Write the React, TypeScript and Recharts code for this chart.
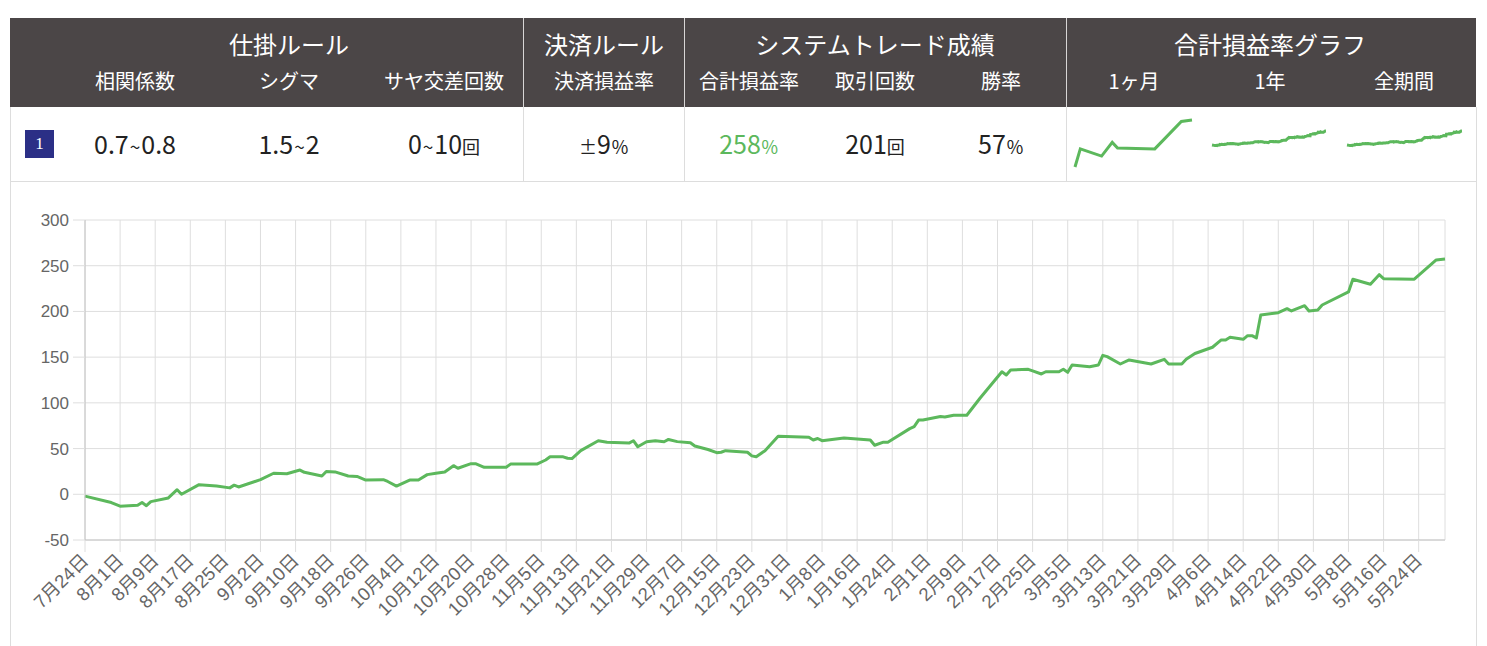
import { LineChart, Line, XAxis, YAxis, CartesianGrid } from "recharts";

// 合計損益率 (%) per trade date
const dates = [
  "7/24", "7/30", "8/1", "8/5", "8/6", "8/7", "8/8", "8/12", "8/14", "8/15", "8/19", "8/23", "8/26", "8/27", "8/28",
  "9/2", "9/5", "9/8", "9/11", "9/12", "9/16", "9/17", "9/19", "9/22", "9/24", "9/26", "9/30",
  "10/1", "10/3", "10/6", "10/8", "10/10", "10/12", "10/14", "10/16", "10/17", "10/20", "10/21", "10/23", "10/28", "10/29",
  "11/4", "11/6", "11/7", "11/10", "11/11", "11/12", "11/14", "11/18", "11/20", "11/25", "11/26", "11/27", "11/29",
  "12/1", "12/3", "12/4", "12/6", "12/9", "12/10", "12/13", "12/15", "12/16", "12/17", "12/22", "12/23", "12/24", "12/26", "12/29",
  "1/5", "1/6", "1/7", "1/8", "1/13", "1/19", "1/20", "1/22", "1/23", "1/28", "1/29", "1/30", "1/31",
  "2/4", "2/5", "2/7", "2/10", "2/13", "2/18", "2/19", "2/20", "2/24", "2/25", "2/27", "2/28",
  "3/3", "3/4", "3/5", "3/6", "3/10", "3/12", "3/13", "3/14", "3/17", "3/19", "3/24", "3/27", "3/28", "3/31",
  "4/1", "4/3", "4/7", "4/9", "4/10", "4/11", "4/14", "4/15", "4/16", "4/17", "4/18", "4/22", "4/24", "4/25", "4/28", "4/29",
  "5/1", "5/2", "5/8", "5/9", "5/13", "5/15", "5/16", "5/23", "5/28", "5/30",
];
const values = [
  -2, -9, -13, -12, -9, -12.5, -8, -4, 5, 0, 10.5, 9, 7, 10, 8,
  16, 23, 22.5, 26.5, 24, 20, 25, 24.5, 20, 19.5, 15.6, 16,
  14, 9, 15.6, 15.6, 21.5, 23, 24.4, 31.3, 28.5, 33.5, 33.5, 29.5, 29.5, 33,
  33, 37.5, 41, 41, 39.4, 39, 47.7, 58.6, 57, 56, 58.6, 52, 57.5,
  58.6, 57.5, 60, 57.6, 56.4, 52.8, 49, 45.5, 46, 47.7, 46, 42, 41, 47.7, 63.5,
  62.3, 59.4, 61, 58.6, 61.6, 59.4, 53.6, 57, 57, 71.8, 74, 81.2, 81.2,
  85, 84.5, 86.4, 86.4, 105, 134, 130.5, 136, 136.7, 135, 131.6, 134,
  134, 136.7, 133.4, 141.4, 139.6, 141.4, 152, 150.5, 142.5, 146.9, 142.5, 147.6, 142.5, 142.5,
  147.6, 154, 160.8, 168.8, 168.8, 171.7, 169.5, 173.5, 173.5, 171, 196, 198.6, 203, 200.5, 206.3, 200.5,
  201.6, 207, 221.3, 235.2, 229.7, 240.2, 235.8, 235.2, 256.3, 257.4,
];

const tickDates = [
  "7/24", "8/1", "8/9", "8/17", "8/25", "9/2", "9/10", "9/18", "9/26", "10/4", "10/12", "10/20", "10/28",
  "11/5", "11/13", "11/21", "11/29", "12/7", "12/15", "12/23", "12/31", "1/8", "1/16", "1/24", "2/1", "2/9",
  "2/17", "2/25", "3/5", "3/13", "3/21", "3/29", "4/6", "4/14", "4/22", "4/30", "5/8", "5/16", "5/24",
];
const yTicks = [-50, 0, 50, 100, 150, 200, 250, 300];
const monthStart = "5/8";

const GREEN = "#5cb85c";
const DAY = 86400000;
const T0 = Date.UTC(2018, 6, 24);

// "m/d" -> days since 7/24 (Jul–Dec is 2018, Jan–May is 2019)
function toDay(s: string) {
  const [m, d] = s.split("/").map(Number);
  const y = m >= 7 ? 2018 : 2019;
  return Math.round((Date.UTC(y, m - 1, d) - T0) / DAY);
}
function fmtDay(v: number) {
  const dt = new Date(T0 + v * DAY);
  return `${dt.getUTCMonth() + 1}月${dt.getUTCDate()}日`;
}

const data = dates.map((s, i) => ({ d: toDay(s), v: values[i] }));
const monthData = data.filter((p) => p.d >= toDay(monthStart));
const xTicks = tickDates.map(toDay);

const JP = '"Noto Sans CJK JP", "Noto Sans", sans-serif';
const AXIS_FONT = '"Liberation Sans", "Noto Sans CJK JP", sans-serif';

function Cell({ c, top, h, children, style }: any) {
  return (
    <div style={{ position: "absolute", left: c - 120, width: 240, top, height: h, lineHeight: `${h}px`, textAlign: "center", whiteSpace: "nowrap", ...style }}>
      {children}
    </div>
  );
}

const big = { fontSize: 25 };
const small = { fontSize: 18 };
const tilde = { fontSize: 19, margin: "0 1px" };

// rotated date label, right-middle anchored at the tick like chart.js
function DateTick({ x, y, payload }: any) {
  return (
    <text x={x} y={y} dy="0.35em" transform={`rotate(-45 ${x} ${y})`} textAnchor="end" fontSize={18.5} fill="#666" fontFamily={AXIS_FONT}>
      {fmtDay(payload.value)}
    </text>
  );
}

function Spark({ left, top, width, height, points, domain }: any) {
  return (
    <div style={{ position: "absolute", left, top }}>
      <LineChart width={width} height={height} data={points} margin={{ top: 2, right: 2, bottom: 2, left: 2 }}>
        <XAxis type="number" dataKey="d" domain={["dataMin", "dataMax"]} hide />
        <YAxis domain={domain} hide />
        <Line type="linear" dataKey="v" stroke={GREEN} strokeWidth={3} dot={false} isAnimationActive={false} />
      </LineChart>
    </div>
  );
}

export default function App() {
  const groups = [
    { label: "仕掛ルール", c: 289 },
    { label: "決済ルール", c: 604 },
    { label: "システムトレード成績", c: 875 },
    { label: "合計損益率グラフ", c: 1270 },
  ];
  const subs = [
    { label: "相関係数", c: 135 },
    { label: "シグマ", c: 289 },
    { label: "サヤ交差回数", c: 444 },
    { label: "決済損益率", c: 604 },
    { label: "合計損益率", c: 749 },
    { label: "取引回数", c: 875 },
    { label: "勝率", c: 1001 },
    { label: "1ヶ月", c: 1134 },
    { label: "1年", c: 1270 },
    { label: "全期間", c: 1404 },
  ];
  const dividers = [523, 684, 1066];

  return (
    <div style={{ position: "absolute", left: 0, top: 0, width: 1487, height: 646, overflow: "hidden", background: "#fff", fontFamily: JP }}>
      {/* header */}
      <div style={{ position: "absolute", left: 10, top: 18, width: 1466, height: 89, background: "#4b4647" }} />
      {/* body row */}
      <div style={{ position: "absolute", left: 10, top: 107, width: 1465, height: 74, borderLeft: "1px solid #ddd", borderRight: "1px solid #ddd", borderBottom: "1px solid #ddd" }} />
      {dividers.map((x) => (
        <div key={x} style={{ position: "absolute", left: x, top: 18, width: 1, height: 89, background: "#d8d6d6" }} />
      ))}
      {dividers.map((x) => (
        <div key={"b" + x} style={{ position: "absolute", left: x, top: 107, width: 1, height: 75, background: "#ddd" }} />
      ))}
      {groups.map((g) => (
        <Cell key={g.label} c={g.c} top={29} h={30} style={{ color: "#fff", fontSize: 24 }}>{g.label}</Cell>
      ))}
      {subs.map((s) => (
        <Cell key={s.label} c={s.c} top={68} h={26} style={{ color: "#fff", fontSize: 20 }}>{s.label}</Cell>
      ))}

      {/* row values */}
      <div style={{ position: "absolute", left: 25, top: 130, width: 29, height: 28, background: "#2b2f86", color: "#fff", fontSize: 17, lineHeight: "28px", textAlign: "center", fontFamily: "Liberation Serif, serif" }}>1</div>
      <Cell c={135} top={127} h={32} style={{ color: "#222" }}><span style={big}>0.7</span><span style={tilde}>~</span><span style={big}>0.8</span></Cell>
      <Cell c={289} top={127} h={32} style={{ color: "#222" }}><span style={big}>1.5</span><span style={tilde}>~</span><span style={big}>2</span></Cell>
      <Cell c={444} top={127} h={32} style={{ color: "#222" }}><span style={big}>0</span><span style={tilde}>~</span><span style={big}>10</span><span style={small}>回</span></Cell>
      <Cell c={604} top={127} h={32} style={{ color: "#222" }}><span style={small}>±</span><span style={big}>9</span><span style={small}>％</span></Cell>
      <Cell c={749} top={127} h={32} style={{ color: GREEN }}><span style={big}>258</span><span style={small}>％</span></Cell>
      <Cell c={875} top={127} h={32} style={{ color: "#222" }}><span style={big}>201</span><span style={small}>回</span></Cell>
      <Cell c={1001} top={127} h={32} style={{ color: "#222" }}><span style={big}>57</span><span style={small}>％</span></Cell>

      <Spark left={1073} top={118} width={121} height={51} points={monthData} domain={["dataMin", "dataMax"]} />
      <Spark left={1210} top={118} width={118} height={54} points={data} domain={[-465, 460]} />
      <Spark left={1345} top={118} width={119} height={54} points={data} domain={[-465, 460]} />

      {/* main chart card */}
      <div style={{ position: "absolute", left: 10, top: 182, width: 1465, height: 470, borderLeft: "1px solid #ddd", borderRight: "1px solid #ddd" }}>
        <LineChart width={1465} height={464} data={data} margin={{ top: 38, right: 31, bottom: 6, left: 0 }}>
          <CartesianGrid stroke="#dedede" strokeWidth={1} />
          <XAxis
            type="number"
            dataKey="d"
            domain={[0, "dataMax"]}
            ticks={xTicks}
            interval={0}
            height={100}
            tickSize={12}
            tickMargin={5}
            tick={<DateTick />}
            axisLine={{ stroke: "#c4c4c4" }}
            tickLine={{ stroke: "#dedede" }}
          />
          <YAxis
            domain={[-50, 300]}
            ticks={yTicks}
            interval={0}
            width={74}
            tickSize={12}
            tickMargin={4}
            tick={{ fontSize: 17, fill: "#666", fontFamily: '"Liberation Sans", sans-serif' }}
            axisLine={{ stroke: "#c4c4c4" }}
            tickLine={{ stroke: "#dedede" }}
          />
          <Line type="linear" dataKey="v" stroke={GREEN} strokeWidth={3} dot={false} isAnimationActive={false} strokeLinejoin="round" />
        </LineChart>
      </div>
    </div>
  );
}
